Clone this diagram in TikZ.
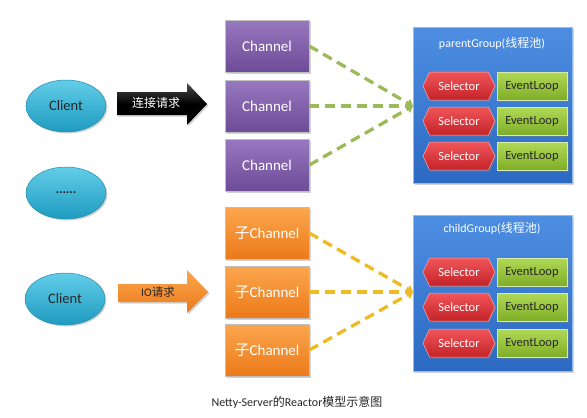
\documentclass[tikz,border=0pt]{standalone}
\usepackage{fontspec}
\setmainfont{Carlito}
\newfontfamily\cjk{Noto Sans CJK SC}
\usetikzlibrary{shapes.geometric,shapes.symbols,shadows,arrows.meta}
\definecolor{cliTop}{HTML}{62CDE8}
\definecolor{cliBot}{HTML}{1E9BC0}
\definecolor{cliEdge}{HTML}{2A8CAD}
\definecolor{purTop}{HTML}{9878BF}
\definecolor{purBot}{HTML}{6D4B98}
\definecolor{orTop}{HTML}{FCA64E}
\definecolor{orBot}{HTML}{EB7A1A}
\definecolor{bluTop}{HTML}{4D8EE2}
\definecolor{bluBot}{HTML}{2C69C2}
\definecolor{redTop}{HTML}{F0555A}
\definecolor{redBot}{HTML}{C42328}
\definecolor{grnTop}{HTML}{B0D956}
\definecolor{grnBot}{HTML}{7FAD28}
\definecolor{dashG}{HTML}{9BBB59}
\definecolor{dashY}{HTML}{EEBC22}
\tikzset{
  shad/.style={drop shadow={opacity=0.35, shadow xshift=1.5pt, shadow yshift=-1.5pt}},
  client/.style={ellipse, minimum width=80pt, minimum height=52pt, inner sep=0pt,
    top color=cliTop, bottom color=cliBot, draw=cliEdge, line width=0.5pt,
    text=black!85, font=\fontsize{14.5}{16}\selectfont, shad},
  chbox/.style={rectangle, minimum width=84pt, minimum height=52pt, inner sep=0pt,
    draw=white!75!black, line width=0.5pt, text=white,
    font=\fontsize{15}{17}\selectfont, shad},
  purch/.style={chbox, top color=purTop, bottom color=purBot},
  orch/.style={chbox, top color=orTop, bottom color=orBot},
  grp/.style={rectangle, minimum width=159pt, minimum height=156pt, inner sep=0pt,
    top color=bluTop, bottom color=bluBot, draw=bluTop!60!white, line width=0.5pt, shad},
  grptitle/.style={text=white, font=\fontsize{12}{14}\selectfont, inner sep=0pt},
  sel/.style={signal, signal to=west and east, signal pointer angle=130,
    minimum width=72pt, minimum height=28pt, inner sep=0pt,
    top color=redTop, bottom color=redBot, draw=redTop!50!white, line width=0.5pt,
    text=white, font=\fontsize{12.5}{14}\selectfont, shad},
  evl/.style={rectangle, minimum width=70pt, minimum height=28pt, inner sep=0pt,
    top color=grnTop, bottom color=grnBot, draw=grnTop!50!white, line width=0.5pt,
    text=black!85, font=\fontsize{12.5}{14}\selectfont, shad},
  gdash/.style={draw=dashG, line width=3.3pt, dash pattern=on 10pt off 6pt,
    -{Triangle[length=6pt,width=9pt]}},
  ydash/.style={draw=dashY, line width=3.3pt, dash pattern=on 10pt off 6pt,
    -{Triangle[length=6pt,width=9pt]}},
}
\begin{document}
\begin{tikzpicture}[x=1pt,y=-1pt]
\useasboundingbox[fill=white] (0,0) rectangle (587,418);

% clients
\node[client] (cl1) at (66,106) {Client};
\node[client] (cl2) at (66,193) {\fontsize{13}{15}\selectfont\bfseries ......};
\node[client] (cl3) at (65,299) {Client};

% request arrows
\shade[top color=black!70, bottom color=black, middle color=black, shad]
  (117,92) -- (187,92) -- (187,83) -- (207,104) -- (187,125) -- (187,115) -- (117,115) -- cycle;
\node[text=white, font=\cjk\fontsize{12}{14}\selectfont, inner sep=0pt] (req1) at (156,103) {连接请求};
\shade[top color=orTop, bottom color=orBot, shad]
  (118,284) -- (187,284) -- (187,270) -- (208,292) -- (187,313) -- (187,302) -- (118,302) -- cycle;
\node[text=black!85, font=\fontsize{11.5}{14}\selectfont, inner sep=0pt] (req2) at (158,292) {IO{\cjk 请求}};

% channels
\node[purch] (p1) at (267,46) {Channel};
\node[purch] (p2) at (267,106) {Channel};
\node[purch] (p3) at (267,165) {Channel};
\node[orch] (o1) at (267,233) {{\cjk 子}Channel};
\node[orch] (o2) at (267,292) {{\cjk 子}Channel};
\node[orch] (o3) at (267,350) {{\cjk 子}Channel};

% groups
\node[grp] (pg) at (492.5,105.5) {};
\node[grptitle] (pgt) at (492,43) {parentGroup({\cjk 线程池})};
\node[sel] (ps1) at (459,86) {Selector};
\node[sel] (ps2) at (459,121) {Selector};
\node[sel] (ps3) at (459,156) {Selector};
\node[evl] (pe1) at (532,86) {EventLoop};
\node[evl] (pe2) at (532,121) {EventLoop};
\node[evl] (pe3) at (532,156) {EventLoop};

\node[grp] (cg) at (492.5,293) {};
\node[grptitle] (cgt) at (492,228) {childGroup({\cjk 线程池})};
\node[sel] (cs1) at (459,272) {Selector};
\node[sel] (cs2) at (459,307) {Selector};
\node[sel] (cs3) at (459,343) {Selector};
\node[evl] (ce1) at (532,272) {EventLoop};
\node[evl] (ce2) at (532,307) {EventLoop};
\node[evl] (ce3) at (532,343) {EventLoop};

% connectors
\coordinate (pin1) at (413,106);
\coordinate (pin2) at (413,292);
\draw[gdash] (p1.east) -- (pin1);
\draw[gdash] (p2.east) -- (pin1);
\draw[gdash] (p3.east) -- (pin1);
\draw[ydash] (o1.east) -- (pin2);
\draw[ydash] (o2.east) -- (pin2);
\draw[ydash] (o3.east) -- (pin2);

% caption
\node[text=black!85, font=\fontsize{12}{14}\selectfont, inner sep=0pt] (cap) at (297,402)
  {Netty-Server{\cjk 的}Reactor{\cjk 模型示意图}};
\end{tikzpicture}
\end{document}
